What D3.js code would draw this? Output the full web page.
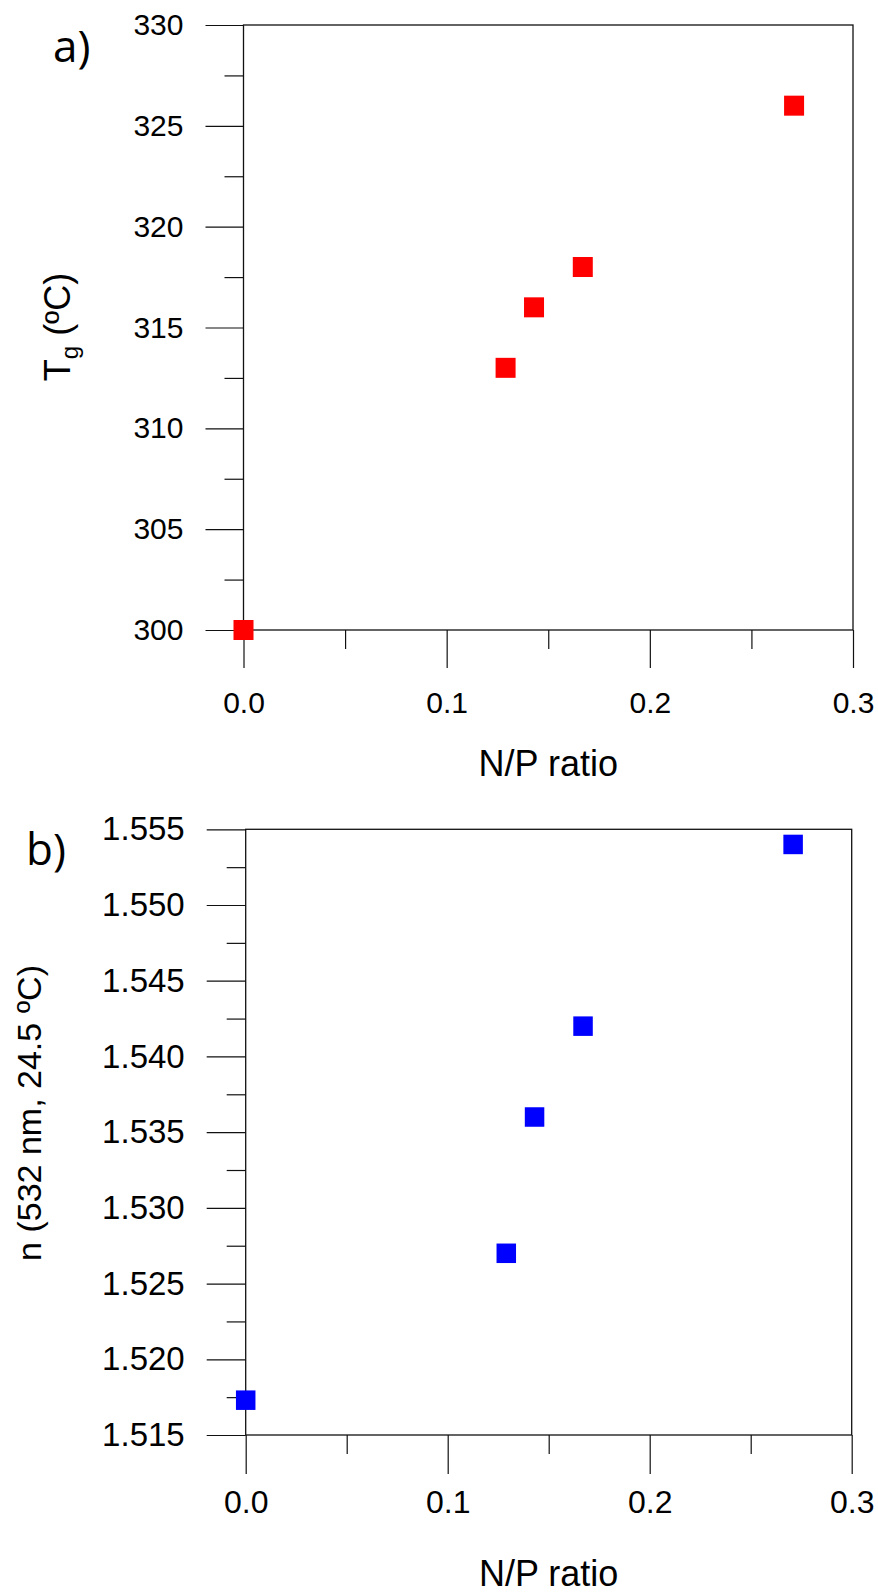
<!DOCTYPE html>
<html><head><meta charset="utf-8">
<script src="https://cdn.jsdelivr.net/npm/d3@7"></script>
<style>html,body{margin:0;padding:0;background:#fff;}svg{display:block;}</style>
</head><body>
<script>
// Data
const npRatio = [0, 0.129, 0.143, 0.167, 0.271];
const tgValues = [300, 313, 316, 318, 326];
const nValues = [1.5173, 1.527, 1.536, 1.542, 1.554];
const xTicks = [0, 0.1, 0.2, 0.3];
const xMinorTicks = [0.05, 0.15, 0.25];
const tgTicks = [300, 305, 310, 315, 320, 325, 330];
const tgMinorTicks = [302.5, 307.5, 312.5, 317.5, 322.5, 327.5];
const nTicks = [1.515, 1.520, 1.525, 1.530, 1.535, 1.540, 1.545, 1.550, 1.555];
const nMinorTicks = [1.5175, 1.5225, 1.5275, 1.5325, 1.5375, 1.5425, 1.5475, 1.5525];

const W = 878, H = 1593;
const svg = d3.select("body").append("svg").attr("width", W).attr("height", H);
const FONT = "'Liberation Sans', Arial, sans-serif";

function panel(cfg) {
  const x = d3.scaleLinear().domain([0, 0.3]).range([cfg.left, cfg.right]);
  const y = d3.scaleLinear().domain(cfg.yDomain).range([cfg.bottom, cfg.top]);
  const g = svg.append("g");

  // frame
  g.append("rect").attr("x", cfg.left).attr("y", cfg.top)
    .attr("width", cfg.right - cfg.left).attr("height", cfg.bottom - cfg.top)
    .attr("fill", "none").attr("stroke", "#111").attr("stroke-width", 1.3);

  // y axis major
  const yMaj = g.append("g").attr("transform", `translate(${cfg.left},0)`)
    .call(d3.axisLeft(y).tickValues(cfg.yTicks).tickSize(cfg.majLen).tickSizeOuter(0).tickFormat(cfg.yFmt).tickPadding(22));
  yMaj.select(".domain").remove();
  yMaj.selectAll("line").attr("stroke", "#111").attr("stroke-width", 1.2);
  yMaj.selectAll("text").attr("font-family", FONT).attr("font-size", cfg.yFont).attr("fill", "#000");
  const yMin = g.append("g").attr("transform", `translate(${cfg.left},0)`)
    .call(d3.axisLeft(y).tickValues(cfg.yMinor).tickSize(cfg.minLen).tickSizeOuter(0).tickFormat(""));
  yMin.select(".domain").remove();
  yMin.selectAll("line").attr("stroke", "#111").attr("stroke-width", 1.2);

  // x axis major
  const xMaj = g.append("g").attr("transform", `translate(0,${cfg.bottom})`)
    .call(d3.axisBottom(x).tickValues(xTicks).tickSize(cfg.majLen).tickSizeOuter(0).tickFormat(d3.format(".1f")).tickPadding(cfg.xPad));
  xMaj.select(".domain").remove();
  xMaj.selectAll("line").attr("stroke", "#111").attr("stroke-width", 1.2);
  xMaj.selectAll("text").attr("font-family", FONT).attr("font-size", cfg.xFont).attr("fill", "#000");
  const xMin = g.append("g").attr("transform", `translate(0,${cfg.bottom})`)
    .call(d3.axisBottom(x).tickValues(xMinorTicks).tickSize(cfg.minLen).tickSizeOuter(0).tickFormat(""));
  xMin.select(".domain").remove();
  xMin.selectAll("line").attr("stroke", "#111").attr("stroke-width", 1.2);

  // markers
  const s = cfg.mSize;
  g.selectAll("rect.pt").data(cfg.yData).enter().append("rect").attr("class", "pt")
    .attr("x", (d, i) => x(npRatio[i]) - s / 2)
    .attr("y", d => y(d) - s / 2)
    .attr("width", s).attr("height", s)
    .attr("fill", cfg.color);

  // x title
  g.append("text").attr("x", (cfg.left + cfg.right) / 2).attr("y", cfg.xTitleY)
    .attr("text-anchor", "middle").attr("font-family", FONT).attr("font-size", cfg.titleFont)
    .text("N/P ratio");

  // panel letter
  g.append("text").attr("x", cfg.letterX).attr("y", cfg.letterY)
    .attr("font-family", "'Open Sans', 'Noto Sans', sans-serif").attr("font-size", 44)
    .text(cfg.letter);
  return {x, y, g};
}

const a = panel({
  left: 243.5, right: 853, top: 25, bottom: 630,
  yDomain: [300, 330], yTicks: tgTicks, yMinor: tgMinorTicks, yFmt: d3.format("d"),
  majLen: 38, minLen: 19, yFont: 30, xFont: 30, xPad: 24,
  yData: tgValues, color: "#ff0000", mSize: 20,
  xTitleY: 776, titleFont: 36, letter: "a)", letterX: 53, letterY: 62
});
// y title a: T_g (ºC)
const ta = a.g.append("text").attr("transform", "translate(70,327) rotate(-90)")
  .attr("text-anchor", "middle").attr("font-family", FONT).attr("font-size", 36);
ta.append("tspan").text("T");
ta.append("tspan").attr("font-size", 24).attr("dy", 8).text("g");
ta.append("tspan").attr("dy", -8).text(" (ºC)");

const b = panel({
  left: 245.7, right: 851.7, top: 829.3, bottom: 1435,
  yDomain: [1.515, 1.555], yTicks: nTicks, yMinor: nMinorTicks, yFmt: d3.format(".3f"),
  majLen: 39, minLen: 19, yFont: 33, xFont: 32, xPad: 16,
  yData: nValues, color: "#0000ff", mSize: 19.5,
  xTitleY: 1586, titleFont: 36, letter: "b)", letterX: 26, letterY: 865
});
b.g.append("text").attr("transform", "translate(41,1113) rotate(-90)")
  .attr("text-anchor", "middle").attr("font-family", FONT).attr("font-size", 34)
  .text("n (532 nm, 24.5 ºC)");
</script>
</body></html>
